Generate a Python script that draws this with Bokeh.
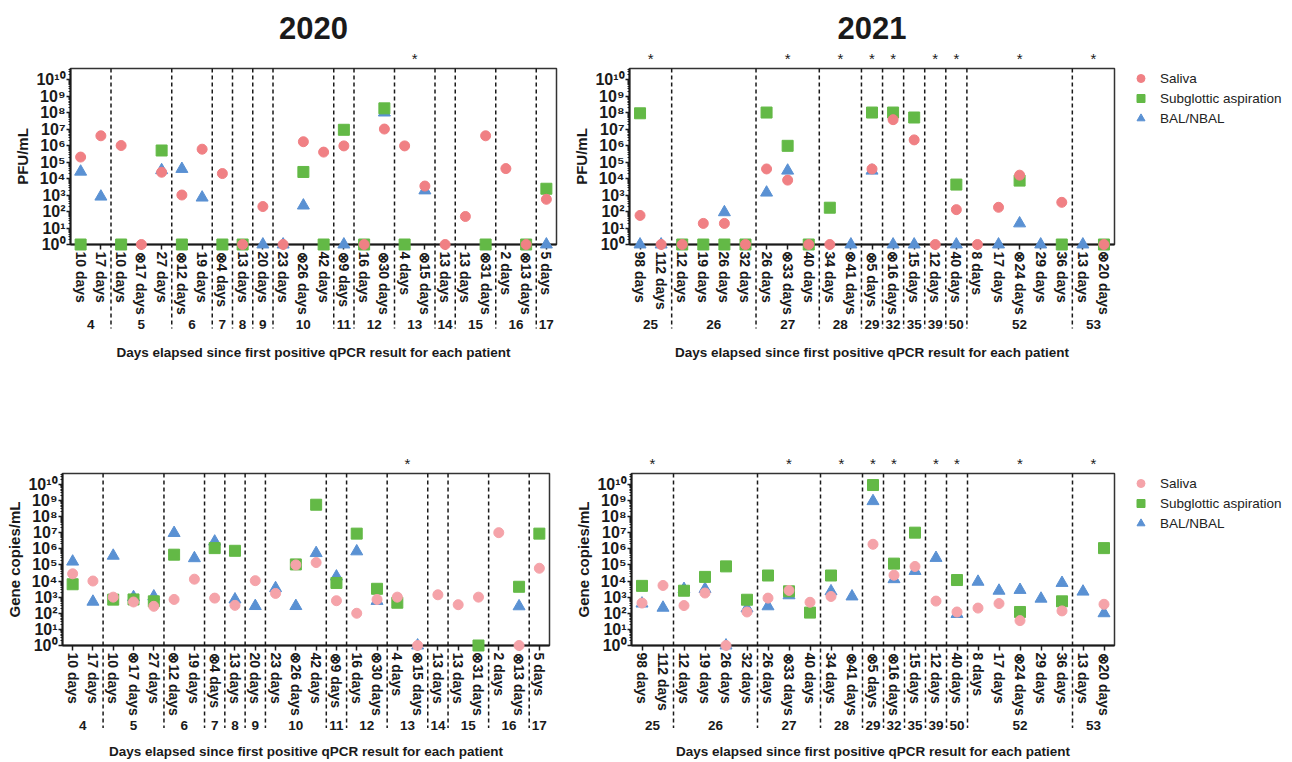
import math
from bokeh.plotting import figure
from bokeh.models import (Range1d, LinearAxis, FixedTicker, Legend,
                          LegendItem, ColumnDataSource)
from bokeh.layouts import column, row
from bokeh.embed import file_html
from bokeh.resources import INLINE
from bokeh.core.properties import value

# ---------------- data ----------------
pat20 = ["4", "4", "5", "5", "5", "6", "6", "7", "8", "9", "10", "10", "10", "11",
         "12", "12", "13", "13", "14", "15", "15", "16", "16", "17"]
day20 = ["10 days", "17 days", "10 days", "⊗17 days", "27 days", "⊗12 days", "19 days",
         "⊗4 days", "13 days", "20 days", "23 days", "⊗26 days", "42 days", "⊗9 days",
         "16 days", "⊗30 days", "4 days", "⊗15 days", "13 days", "13 days", "⊗31 days",
         "2 days", "⊗13 days", "5 days"]
star20 = ["13"]

pat21 = ["25", "25", "26", "26", "26", "26", "27", "27", "27", "28", "28", "29", "32",
         "35", "39", "50", "52", "52", "52", "52", "52", "53", "53"]
day21 = ["98 days", "112 days", "12 days", "19 days", "26 days", "32 days", "26 days",
         "⊗33 days", "40 days", "34 days", "⊗41 days", "⊗5 days", "⊗16 days", "15 days",
         "12 days", "40 days", "8 days", "17 days", "⊗24 days", "29 days", "36 days",
         "13 days", "⊗20 days"]
star21 = ["25", "27", "28", "29", "32", "39", "50", "52", "53"]

# PFU/mL (1 = below detection, plotted on the axis; None = not sampled)
sal_pfu20 = [2e5, 3.9e6, 1e6, 1, 2.4e4, 1e3, 6e5, 2e4, 1, 2e2, 1, 1.7e6, 4e5, 9.5e5,
             1, 1e7, 9.5e5, 3.5e3, 1, 50, 3.9e6, 4e4, 1, 5.5e2]
sub_pfu20 = [1, None, 1, None, 5e5, 1, None, 1, 1, None, None, 2.5e4, 1, 9e6,
             1, 1.8e8, 1, None, None, None, 1, None, 1, 2.4e3]
bal_pfu20 = [2.6e4, 8e2, None, None, 3.2e4, 3.8e4, 7e2, None, None, 1, 1, 2.3e2, None, 1,
             None, 1e8, None, 1.9e3, None, None, None, None, None, 1]

sal_pfu21 = [58, 1, 1, 19, 19, 1, 3.8e4, 8e3, 1, 1, None, 3.8e4, 3.7e7, 2.2e6, 1, 1.3e2,
             1, 1.8e2, 1.6e4, None, 3.6e2, None, 1]
sub_pfu21 = [9e7, None, 1, 1, 1, 1, 1e8, 9.6e5, 1, 1.7e2, None, 1e8, 1e8, 5e7, None, 4.3e3,
             None, None, 7.5e3, None, 1, None, 1]
bal_pfu21 = [1, 1, None, None, 90, None, 1.4e3, 3e4, None, None, 1, 3e4, 1, 1, None, 1,
             None, 1, 19, 1, None, 1, None]

# Gene copies/mL
sal_gc20 = [2.8e4, 1e4, 1e3, 5e2, 2.7e2, 7.2e2, 1.3e4, 8.7e2, 3.1e2, 1.05e4, 1.7e3, 1.0e5,
            1.4e5, 6e2, 1e2, 7.2e2, 1e3, 1, 1.4e3, 3.4e2, 1e3, 1e7, 1, 6.2e4]
sub_gc20 = [6.3e3, None, 7e2, 7.2e2, 5.5e2, 4.3e5, None, 1.1e6, 7.5e5, None, None, 1.07e5,
            5.4e8, 7.6e3, 8.7e6, 3.3e3, 4.5e2, None, None, None, 1, None, 4.4e3, 8.7e6]
bal_gc20 = [1.6e5, 5.2e2, 3.7e5, 1e3, 1.1e3, 9.5e6, 2.6e5, 2.8e6, 7.2e2, 2.8e2, 3.6e3, 2.8e2,
            5.4e5, 1.9e4, 6.9e5, 5.8e2, None, 1, None, None, None, None, 2.7e2, None]

sal_gc21 = [4.3e2, 5.3e3, 3e2, 1.8e3, 1, 1.2e2, 8.7e2, 2.6e3, 4.8e2, 1.1e3, None, 1.9e6,
            2.3e4, 8e4, 5.7e2, 1.2e2, 2.1e2, 4e2, 35, None, 1.4e2, None, 3.6e2]
sub_gc21 = [5e3, None, 2.5e3, 1.8e4, 8.1e4, 6.9e2, 2.2e4, 2.3e3, 1.1e2, 2.2e4, None, 9e9,
            1.2e5, 1e7, None, 1.15e4, None, None, 1.2e2, None, 5.5e2, None, 1.1e6]
bal_gc21 = [4e2, 2.2e2, 3.2e3, 3.2e3, 1, 2e2, 2.7e2, 1.3e3, None, 2.3e3, 1.1e3, 9e8, 1.3e4,
            4.2e4, 2.7e5, 90, 9e3, 2.5e3, 2.8e3, 8e2, 7.6e3, 2.2e3, 1e2]

series_names = ["Saliva", "Subglottic aspiration", "BAL/NBAL"]
XTITLE = "Days elapsed since first positive qPCR result for each patient"

# ---------------- styling ----------------
FONT = "Liberation Sans"
YTOP = 10.67
SUP = str.maketrans("0123456789", "⁰¹²³⁴⁵⁶⁷⁸⁹")
GREEN = "#63B946"
BLUE = "#5A91D3"
PINK_TOP = "#F08084"
PINK_BOT = "#F5A3A9"
INK = "#1a1a1a"
MARKERS = [("circle", 10), ("square", 11), ("triangle", 12)]


def make_panel(pats, days, sal, sub, bal, starred, ylabel, title,
               w, h, bl, br, bt, bb, pink, xtitle_standoff, ylabel_standoff):
    n = len(days)
    p = figure(width=w, height=h, x_range=Range1d(-0.5, n - 0.5),
               y_range=Range1d(1, 10 ** YTOP), y_axis_type="log",
               x_axis_location=None, toolbar_location=None, output_backend="svg",
               min_border_left=bl, min_border_right=br, min_border_top=bt,
               min_border_bottom=bb, outline_line_color="#333333",
               outline_line_width=1.5, background_fill_color="white",
               border_fill_color="white")
    p.grid.visible = False
    fh = h - bt - bb
    ppd = fh / YTOP

    # patient groups
    groups = []
    for i, pt in enumerate(pats):
        if groups and groups[-1][0] == pt:
            groups[-1][2] = i
        else:
            groups.append([pt, i, i])
    bounds = [g[1] - 0.5 for g in groups[1:]]
    centers = [(g[1] + g[2]) / 2 for g in groups]

    # dashed separators between patients, running from frame top through the labels
    p.segment(x0=bounds, x1=bounds, y0=[10 ** YTOP] * len(bounds),
              y1=[10 ** (-84 / ppd)] * len(bounds), line_color=INK, line_width=1.5,
              line_dash="4 3", level="overlay")

    # points: triangle (bottom), square, circle (top)
    def src(vals):
        xs = [i for i, v in enumerate(vals) if v is not None]
        ys = [v for v in vals if v is not None]
        return ColumnDataSource(dict(x=xs, y=ys))

    p.scatter("x", "y", source=src(bal), marker="triangle", size=12,
              fill_color=BLUE, line_color=BLUE, level="overlay")
    p.scatter("x", "y", source=src(sub), marker="square", size=11,
              fill_color=GREEN, line_color=GREEN, level="overlay")
    p.scatter("x", "y", source=src(sal), marker="circle", size=10,
              fill_color=pink, line_color=pink, level="overlay")

    # stars above flagged patients
    sx = [c for g, c in zip(groups, centers) if g[0] in starred]
    p.text(x=sx, y=[10 ** (YTOP + 10 / ppd)] * len(sx), text=["*"] * len(sx),
           text_align="center", text_baseline="middle", text_font_size="15px",
           text_font=value(FONT), text_color=INK, level="overlay")

    # panel title (year) centred above the frame
    if title:
        p.text(x=[(n - 1) / 2], y=[10 ** (YTOP + 41 / ppd)], text=[title],
               text_align="center", text_baseline="middle", text_font_size="31px",
               text_font=value(FONT), text_font_style="bold", text_color=INK,
               level="overlay")

    # y axis
    yax = p.yaxis[0]
    yax.ticker = FixedTicker(
        ticks=[10 ** k for k in range(11)],
        minor_ticks=[m * 10 ** k for k in range(11) for m in range(2, 10)
                     if m * 10 ** k < 10 ** YTOP])
    yax.major_label_overrides = {10 ** k: "10" + str(k).translate(SUP) for k in range(11)}
    yax.axis_line_width = 2
    yax.axis_line_color = INK
    yax.major_tick_out = 4
    yax.major_tick_in = 0
    yax.major_tick_line_width = 1.5
    yax.major_tick_line_color = INK
    yax.minor_tick_out = 2
    yax.minor_tick_in = 0
    yax.minor_tick_line_color = INK
    yax.major_label_standoff = 1
    yax.major_label_text_font = FONT
    yax.major_label_text_font_style = "bold"
    yax.major_label_text_font_size = "16px"
    yax.major_label_text_color = INK
    yax.axis_label = ylabel
    yax.axis_label_text_font = FONT
    yax.axis_label_text_font_style = "bold"
    yax.axis_label_text_font_size = "15px"
    yax.axis_label_text_color = INK
    yax.axis_label_standoff = ylabel_standoff

    # x axis 1: sampling days
    ax1 = LinearAxis(
        ticker=FixedTicker(ticks=list(range(n)), minor_ticks=[]),
        major_label_overrides={i: d for i, d in enumerate(days)},
        major_label_orientation="vertical",
        axis_line_width=2, axis_line_color=INK,
        major_tick_out=5, major_tick_in=0, major_tick_line_width=1.5,
        major_tick_line_color=INK, minor_tick_line_color=None,
        major_label_standoff=2, major_label_text_font=FONT,
        major_label_text_font_style="bold", major_label_text_font_size="14px",
        major_label_text_color=INK)
    p.add_layout(ax1, "below")

    # x axis 2: patient numbers + title
    ax2 = LinearAxis(
        ticker=FixedTicker(ticks=centers, minor_ticks=[]),
        major_label_overrides={float(c): g[0] for g, c in zip(groups, centers)},
        axis_line_color=None, major_tick_line_color=None, minor_tick_line_color=None,
        major_tick_out=0, major_tick_in=0, major_label_standoff=2,
        major_label_text_font=FONT, major_label_text_font_style="bold",
        major_label_text_font_size="13.5px", major_label_text_color=INK,
        axis_label=XTITLE, axis_label_text_font=FONT,
        axis_label_text_font_style="bold", axis_label_text_font_size="13.5px",
        axis_label_text_color=INK, axis_label_standoff=xtitle_standoff)
    p.add_layout(ax2, "below")
    return p


def make_legend(w, h, pink, top):
    """Separate narrow figure holding only the legend, to the right of a panel."""
    lf = figure(width=w, height=h, x_range=Range1d(0, 1), y_range=Range1d(0, 1),
                x_axis_location=None, y_axis_location=None, toolbar_location=None,
                output_backend="svg", min_border_left=4, min_border_top=top,
                min_border_right=0, min_border_bottom=0, outline_line_color=None,
                background_fill_color="white", border_fill_color="white")
    lf.grid.visible = False
    colors = [pink, GREEN, BLUE]
    items = []
    for name, (mk, sz), c in zip(series_names, MARKERS, colors):
        # proxy renderer: one point kept outside this figure's visible range
        r = lf.scatter(x=[5], y=[5], marker=mk, size=sz, fill_color=c, line_color=c)
        items.append(LegendItem(label=name, renderers=[r]))
    leg = Legend(items=items, location="top_left", orientation="vertical",
                 border_line_color=None, background_fill_alpha=0,
                 padding=0, margin=0, spacing=0, glyph_height=20, glyph_width=25,
                 label_height=20, label_standoff=7, label_text_font=FONT,
                 label_text_font_size="13.5px", label_text_color="#222222")
    lf.add_layout(leg)
    return lf


p_tl = make_panel(pat20, day20, sal_pfu20, sub_pfu20, bal_pfu20, star20, "PFU/mL", "2020",
                  566, 369, 70, 10, 68, 125, PINK_TOP, 13, 2)
p_tr = make_panel(pat21, day21, sal_pfu21, sub_pfu21, bal_pfu21, star21, "PFU/mL", "2021",
                  558, 369, 63, 10, 68, 125, PINK_TOP, 13, 2)
l_top = make_legend(166, 369, PINK_TOP, 64)
p_bl = make_panel(pat20, day20, sal_gc20, sub_gc20, bal_gc20, star20, "Gene copies/mL", "",
                  559, 392, 62, 10, 104, 113, PINK_BOT, 11, 2)
p_br = make_panel(pat21, day21, sal_gc21, sub_gc21, bal_gc21, star21, "Gene copies/mL", "",
                  565, 392, 72, 10, 104, 113, PINK_BOT, 11, 2)
l_bot = make_legend(166, 392, PINK_BOT, 99)

layout = column(row(p_tl, p_tr, l_top), row(p_bl, p_br, l_bot))
open("out.html", "w").write(file_html(layout, INLINE))
